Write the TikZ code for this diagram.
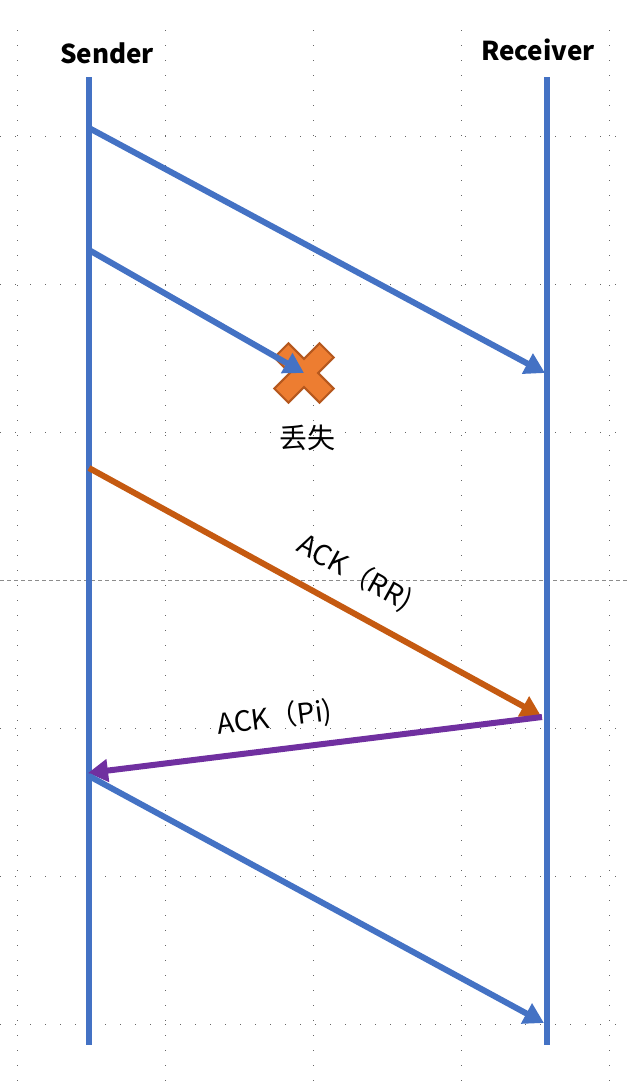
\documentclass[tikz,border=0pt]{standalone}
\usepackage{fontspec}
\setmainfont{Noto Sans CJK SC}
\usepackage{xcolor}
\usepackage{tikz}
\usetikzlibrary{positioning,arrows.meta}

\definecolor{lineblue}{HTML}{4472C4}
\definecolor{ackorange}{HTML}{C55A11}
\definecolor{ackpurple}{HTML}{7030A0}
\definecolor{lostfill}{HTML}{ED7D31}
\definecolor{lostdraw}{HTML}{B5581E}

\begin{document}
\begin{tikzpicture}[
  x=0.5pt, y=-0.5pt,
  head/.style={font=\bfseries\fontsize{13}{15}\selectfont, inner sep=0pt},
  lifeline/.style={lineblue, line width=3pt},
  msg/.style={line width=3pt, -{Triangle[length=10pt,width=11pt]}},
  lbl/.style={font=\fontsize{14}{16}\selectfont, text=black, inner sep=1pt},
  gridln/.style={black!60, line width=0.5pt, dash pattern=on 0.5pt off 7pt},
  midln/.style={black!45, line width=0.5pt, dash pattern=on 2pt off 1.5pt}
]
\useasboundingbox (0,0) rectangle (628,1089);

% guide grid
\foreach \gy in {136,284,432,728,876,1024}
  \draw[gridln] (0,\gy) -- (628,\gy);
\foreach \gx in {17,165,313,461,609}
  \draw[gridln] (\gx,30) -- (\gx,1089);
\draw[midln] (0,580) -- (628,580);

% endpoints
\node[head] (sender) at (107,53) {Sender};
\node[head] (receiver) at (538,50) {Receiver};
\coordinate (stop) at (89,77);
\coordinate (sbot) at (89,1045);
\coordinate (rtop) at (547,77);
\coordinate (rbot) at (547,1045);
\coordinate (s1) at (89,128);
\coordinate (s2) at (89,250);
\coordinate (s3) at (89,468);
\coordinate (s4) at (88,773);
\coordinate (s5) at (89,776);
\coordinate (r1) at (545,373);
\coordinate (r3) at (541,716);
\coordinate (r4) at (542,717);
\coordinate (r5) at (544,1023);
\coordinate (lost) at (304,373);

\draw[lifeline] (stop) -- (sbot);
\draw[lifeline] (rtop) -- (rbot);

% lost packet
\draw[fill=lostfill, draw=lostdraw, line width=1pt, shift={(lost)}, rotate=45]
  (10,32) -- (10,10) -- (32,10) -- (32,-10) -- (10,-10) -- (10,-32)
  -- (-10,-32) -- (-10,-10) -- (-32,-10) -- (-32,10) -- (-10,10) -- (-10,32) -- cycle;
\node[lbl] (lostlbl) at (307,438) {丢失};

\draw[msg, lineblue] (s1) -- (r1);
\draw[msg, lineblue] (s2) -- (lost);
\draw[msg, ackorange] (s3) -- node[lbl, sloped, above=8pt, pos=0.55] {ACK（RR)} (r3);
\draw[msg, ackpurple] (r4) -- node[lbl, sloped, above=6pt, pos=0.58] {ACK（Pi)} (s4);
\draw[msg, lineblue] (s5) -- (r5);
\end{tikzpicture}
\end{document}
